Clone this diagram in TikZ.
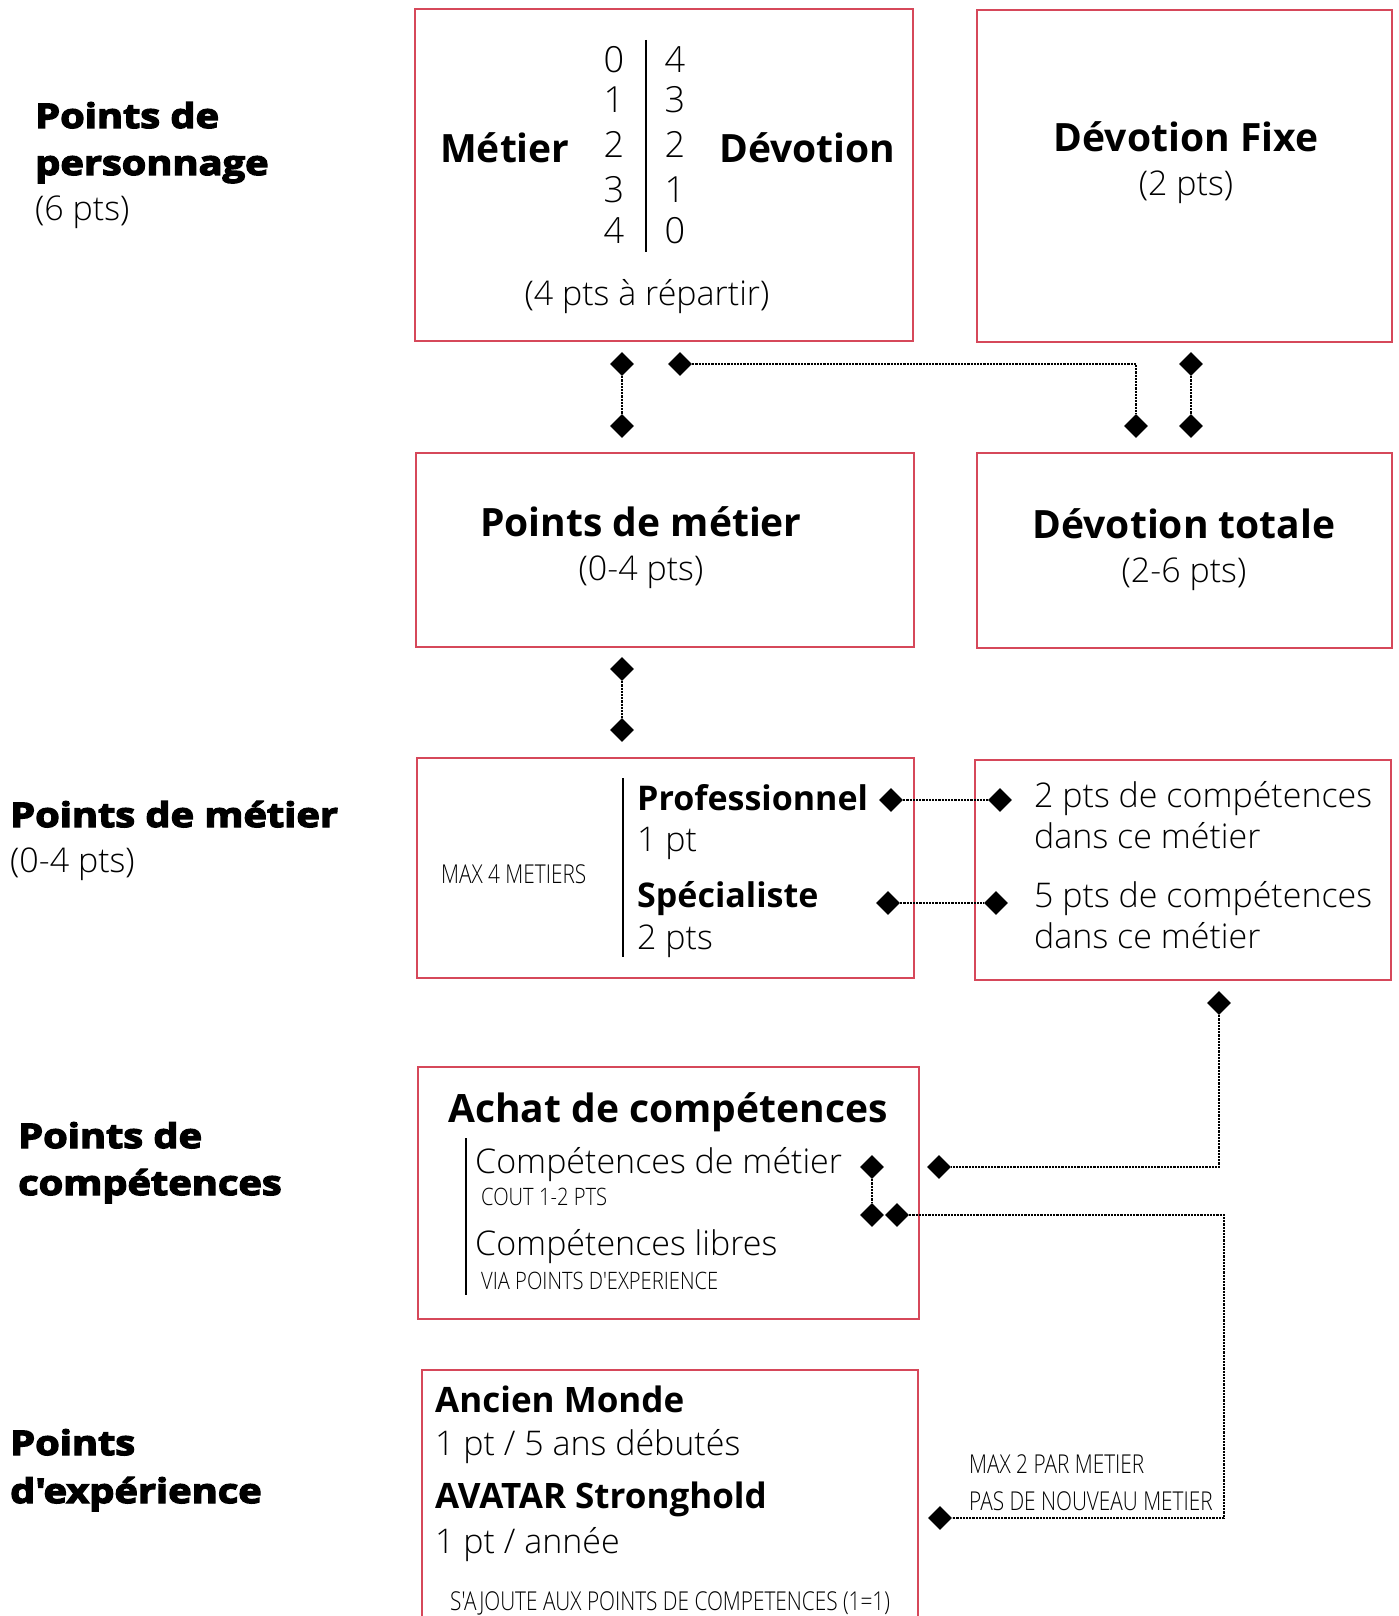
\documentclass[tikz,border=0pt]{standalone}
\usepackage{fontspec}
\usepackage{graphicx}
\setmainfont{Open Sans}
\newfontfamily\ltf{Open Sans Light}
\newfontfamily\xbf{Open Sans}[BoldFeatures={FakeBold=4,FakeStretch=1.17}]
\usetikzlibrary{shapes.geometric}
\definecolor{boxred}{RGB}{214,72,90}
\newcommand\cnd[1]{\scalebox{0.8}[1]{#1}}
\tikzset{
  box/.style={draw=boxred, line width=2pt, inner sep=0pt, anchor=north west},
  dia/.style={diamond, fill=black, draw=none, inner sep=0pt, minimum width=24pt, minimum height=24pt},
  dotline/.style={draw=black, line width=2.2pt, dash pattern=on 2.2pt off 1pt},
  bar/.style={draw=black, line width=2.2pt},
  side/.style={font=\xbf\bfseries\fontsize{34}{34}\selectfont, inner sep=0pt, anchor=base west},
  sidel/.style={font=\ltf\fontsize{34}{34}\selectfont, inner sep=0pt, anchor=base west},
  ttl/.style={font=\bfseries\fontsize{39}{39}\selectfont, inner sep=0pt, anchor=base},
  ttlw/.style={font=\bfseries\fontsize{34}{34}\selectfont, inner sep=0pt, anchor=base west},
  lt/.style={font=\ltf\fontsize{34}{34}\selectfont, inner sep=0pt, anchor=base},
  ltw/.style={font=\ltf\fontsize{34}{34}\selectfont, inner sep=0pt, anchor=base west},
  dig/.style={font=\ltf\fontsize{36}{36}\selectfont, inner sep=0pt, anchor=base},
  cond/.style={font=\ltf\fontsize{26}{26}\selectfont, inner sep=0pt, anchor=base west},
}
\begin{document}
\begin{tikzpicture}[x=1pt,y=-1pt]
\clip (0,0) rectangle (1398,1616);
\fill[white] (0,0) rectangle (1398,1616);

% ---- left labels
\node[side]  (s1a) at (35,128)  {Points de};
\node[side]  (s1b) at (35,175)  {personnage};
\node[sidel] (s1c) at (35,220)  {(6 pts)};
\node[side]  (s2a) at (10,827)  {Points de métier};
\node[sidel] (s2b) at (10,872)  {(0-4 pts)};
\node[side]  (s3a) at (18,1148) {Points de};
\node[side]  (s3b) at (18,1195) {compétences};
\node[side]  (s4a) at (10,1455) {Points};
\node[side]  (s4b) at (10,1503) {d'expérience};

% ---- boxes
\node[box, minimum width=498pt, minimum height=332pt] (b1) at (414,8) {};
\node[box, minimum width=415pt, minimum height=332pt] (b2) at (976,9) {};
\node[box, minimum width=498pt, minimum height=194pt] (b3) at (415,452) {};
\node[box, minimum width=415pt, minimum height=195pt] (b4) at (976,452) {};
\node[box, minimum width=497pt, minimum height=220pt] (b5) at (416,757) {};
\node[box, minimum width=416pt, minimum height=220pt] (b6) at (974,759) {};
\node[box, minimum width=501pt, minimum height=252pt] (b7) at (417,1066) {};
\node[box, minimum width=496pt, minimum height=300pt] (b8) at (421,1369) {};

% ---- box 1
\node[ttlw, font=\bfseries\fontsize{39}{39}\selectfont] (m1) at (440,163) {Métier};
\node[ttlw, font=\bfseries\fontsize{39}{39}\selectfont] (dv1) at (719,163) {Dévotion};
\node[dig] (l0) at (614,73)  {0};
\node[dig] (l1) at (614,113) {1};
\node[dig] (l2) at (614,158) {2};
\node[dig] (l3) at (614,203) {3};
\node[dig] (l4) at (614,243) {4};
\node[dig] (r0) at (675,73)  {4};
\node[dig] (r1) at (675,113) {3};
\node[dig] (r2) at (675,158) {2};
\node[dig] (r3) at (675,203) {1};
\node[dig] (r4) at (675,243) {0};
\coordinate (bar1t) at (646,40);
\coordinate (bar1b) at (646,252);
\draw[bar] (bar1t) -- (bar1b);
\node[lt] (rep) at (647,305) {(4 pts à répartir)};

% ---- box 2
\node[ttl] (dfx) at (1186,152) {Dévotion Fixe};
\node[lt]  (dfxp) at (1186,196) {(2 pts)};

% ---- box 3 / 4
\node[ttl] (pm) at (641,536) {Points de métier};
\node[lt]  (pmp) at (641,580) {(0-4 pts)};
\node[ttl] (dt) at (1184,538) {Dévotion totale};
\node[lt]  (dtp) at (1184,582) {(2-6 pts)};

% ---- connectors row 1
\node[dia] (d1) at (622,364) {};
\node[dia] (d2) at (622,426) {};
\node[dia] (d3) at (680,364) {};
\node[dia] (d4) at (1136,426) {};
\node[dia] (d5) at (1191,364) {};
\node[dia] (d6) at (1191,426) {};
\draw[dotline] (d1) -- (d2);
\draw[dotline] (d3.east) -| (d4.north);
\draw[dotline] (d5) -- (d6);

% ---- connector box3 -> box5
\node[dia] (d7) at (622,669) {};
\node[dia] (d8) at (622,730) {};
\draw[dotline] (d7) -- (d8);

% ---- box 5
\node[cond] (max4) at (441,883) {\cnd{MAX 4 METIERS}};
\coordinate (bar5t) at (623,778);
\coordinate (bar5b) at (623,957);
\draw[bar] (bar5t) -- (bar5b);
\node[ttlw] (pro) at (637,810) {Professionnel};
\node[ltw]  (pro1) at (637,851) {1 pt};
\node[ttlw] (spe) at (637,907) {Spécialiste};
\node[ltw]  (spe2) at (637,949) {2 pts};

% ---- box 6
\node[ltw] (c2a) at (1034,807) {2 pts de compétences};
\node[ltw] (c2b) at (1034,848) {dans ce métier};
\node[ltw] (c5a) at (1034,907) {5 pts de compétences};
\node[ltw] (c5b) at (1034,948) {dans ce métier};

\node[dia] (d9)  at (891,800) {};
\node[dia] (d10) at (1000,800) {};
\node[dia] (d11) at (888,903) {};
\node[dia] (d12) at (996,903) {};
\draw[dotline] (d9) -- (d10);
\draw[dotline] (d11) -- (d12);

% ---- box 7
\node[ttlw, font=\bfseries\fontsize{39}{39}\selectfont] (ach) at (448,1122) {Achat de compétences};
\coordinate (bar7t) at (466,1138);
\coordinate (bar7b) at (466,1295);
\draw[bar] (bar7t) -- (bar7b);
\node[ltw] (cm) at (475,1173) {Compétences de métier};
\node[cond, font=\ltf\fontsize{24}{24}\selectfont] (cout) at (481,1205) {\scalebox{0.84}[1]{COUT 1-2 PTS}};
\node[ltw] (cl) at (475,1255) {Compétences libres};
\node[cond, font=\ltf\fontsize{24}{24}\selectfont] (via) at (481,1289) {\scalebox{0.84}[1]{VIA POINTS D'EXPERIENCE}};

\node[dia] (d13) at (872,1167) {};
\node[dia] (d14) at (872,1215) {};
\node[dia] (d15) at (897,1215) {};
\node[dia] (d16) at (939,1167) {};
\node[dia] (d17) at (1219,1003) {};
\draw[dotline] (d13) -- (d14);
\draw[dotline] (d17.south) |- (d16.east);

% ---- box 8
\node[ttlw, font=\bfseries\fontsize{35}{35}\selectfont] (anc) at (435,1412) {Ancien Monde};
\node[ltw]  (anc1) at (435,1455) {1 pt / 5 ans débutés};
\node[ttlw, font=\bfseries\fontsize{35}{35}\selectfont] (ava) at (435,1508) {AVATAR Stronghold};
\node[ltw]  (ava1) at (435,1553) {1 pt / année};
\node[cond] (saj) at (450,1610) {\cnd{S'AJOUTE AUX POINTS DE COMPETENCES (1=1)}};

\node[dia] (d18) at (940,1518) {};
\coordinate (k1) at (1224,1215);
\coordinate (k2) at (1224,1518);
\draw[dotline] (d15.east) -- (k1) -- (k2) -- (d18.east);
\node[cond] (mx2) at (969,1473) {\cnd{MAX 2 PAR METIER}};
\node[cond] (pdn) at (969,1510) {\cnd{PAS DE NOUVEAU METIER}};
\end{tikzpicture}
\end{document}
